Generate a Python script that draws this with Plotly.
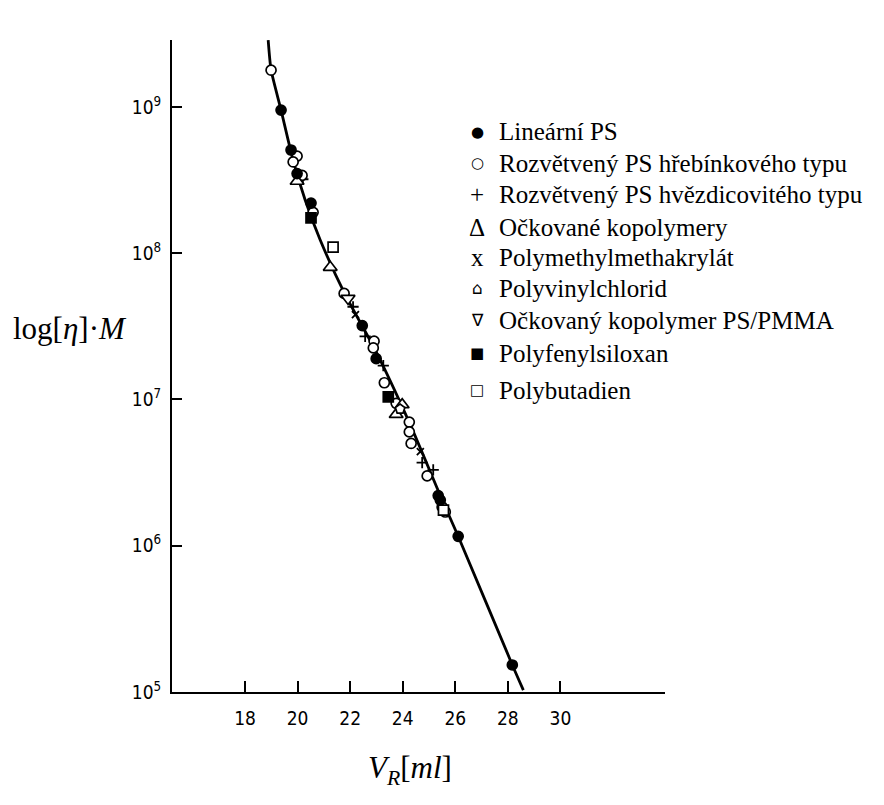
import plotly.graph_objects as go

# ---------------- data ----------------
curve_v = [18.88, 18.99, 19.37, 19.83, 20.29, 20.86, 21.81, 22.95, 24.29, 25.43, 26.11, 28.17, 28.59]
curve_y = [2.86e9, 1.79e9, 9.5e8, 4.3e8, 2.3e8, 1.23e8, 5.2e7, 2.18e7, 6.7e6, 2.2e6, 1.16e6, 1.53e5, 1.03e5]

lin_ps_v = [19.37, 19.75, 19.98, 20.51, 22.46, 22.99, 25.35, 25.43, 26.11, 28.17]
lin_ps_y = [9.5e8, 5.07e8, 3.5e8, 2.2e8, 3.2e7, 1.9e7, 2.2e6, 2.05e6, 1.16e6, 1.53e5]

comb_v = [18.99, 19.98, 19.83, 20.17, 20.59, 21.77, 22.91, 22.88, 23.30, 23.75, 24.25, 24.25, 24.32, 24.93, 25.50, 25.62]
comb_y = [1.78e9, 4.6e8, 4.2e8, 3.4e8, 1.9e8, 5.3e7, 2.5e7, 2.25e7, 1.3e7, 9.4e6, 7.0e6, 6.0e6, 5.0e6, 3.0e6, 1.84e6, 1.7e6]

star_v = [20.20, 22.11, 22.57, 23.26, 24.74, 25.16]
star_y = [3.2e8, 4.3e7, 2.7e7, 1.7e7, 3.7e6, 3.3e6]

graft_v = [19.98, 21.24, 23.98, 23.75]
graft_y = [3.1e8, 8.0e7, 9.2e6, 7.9e6]

pmma_v = [22.20, 24.67]
pmma_y = [3.8e7, 4.4e6]

pvc_v = [23.90]
pvc_y = [8.6e6]

graft_pmma_v = [21.92]
graft_pmma_y = [4.9e7]

pps_v = [20.51, 23.45]
pps_y = [1.74e8, 1.04e7]

pb_v = [21.35, 25.55]
pb_y = [1.1e8, 1.75e6]

x_ticks = [18, 20, 22, 24, 26, 28, 30]
y_ticks = [1e5, 1e6, 1e7, 1e8, 1e9]
y_tick_text = ["10<sup>5</sup>", "10<sup>6</sup>", "10<sup>7</sup>", "10<sup>8</sup>", "10<sup>9</sup>"]

legend_symbols = ["●", "○", "+", "Δ", "x", "⌂\ufe0e", "∇", "■", "□"]
legend_labels = [
    "Lineární PS",
    "Rozvětvený PS hřebínkového typu",
    "Rozvětvený PS hvězdicovitého typu",
    "Očkované kopolymery",
    "Polymethylmethakrylát",
    "Polyvinylchlorid",
    "Očkovaný kopolymer PS/PMMA",
    "Polyfenylsiloxan",
    "Polybutadien",
]

# ---------------- figure ----------------
W, H = 884, 805
L, R, T, B = 172, 665, 40, 692  # plot area in pixels
SERIF = "Liberation Serif, 'Times New Roman', Times, serif"

fig = go.Figure()

fig.add_trace(go.Scatter(x=curve_v, y=curve_y, mode="lines",
                         line=dict(color="black", width=2.8, shape="spline", smoothing=0.6),
                         hoverinfo="skip", showlegend=False))

def pts(xv, yv, symbol, size=9, width=1.7, color="black"):
    fig.add_trace(go.Scatter(x=xv, y=yv, mode="markers", showlegend=False,
                             marker=dict(symbol=symbol, size=size, color=color,
                                         line=dict(color="black", width=width))))

pts(star_v, star_y, "cross-thin", size=8, width=1.8)
pts(pmma_v, pmma_y, "x-thin", size=7, width=1.8)
pts(comb_v, comb_y, "circle", size=10, color="white")
pts(graft_v, graft_y, "triangle-up", size=12, color="white")
pts(graft_pmma_v, graft_pmma_y, "triangle-down", size=12, color="white")
pts(pvc_v, pvc_y, "pentagon", size=10, color="white")
pts(pb_v, pb_y, "square", size=10, color="white")
pts(lin_ps_v, lin_ps_y, "circle", size=10, color="black")
pts(pps_v, pps_y, "square", size=10, color="black")

tick_font = dict(family="DejaVu Sans Condensed, DejaVu Sans, sans-serif", size=19, color="black")

fig.update_xaxes(range=[15.22, 33.98], tickmode="array", tickvals=x_ticks,
                 ticks="inside", ticklen=11, tickwidth=1.6, tickcolor="black",
                 showline=True, linecolor="black", linewidth=2, mirror=False,
                 showgrid=False, zeroline=False, tickfont=tick_font, ticklabelstandoff=8)
fig.update_yaxes(type="log", range=[5, 9.457], tickmode="array", tickvals=y_ticks,
                 ticktext=y_tick_text, ticks="inside", ticklen=10, tickwidth=1.6,
                 tickcolor="black", showline=True, linecolor="black", linewidth=2,
                 showgrid=False, zeroline=False, tickfont=tick_font, ticklabelstandoff=5)

def px_to_paper(px, py):
    return (px - L) / (R - L), (B - py) / (B - T)

# per-symbol font (text glyphs of the legend)
sym_fonts = [("DejaVu Sans", 15), ("DejaVu Sans", 15), (SERIF, 25), (SERIF, 25), (SERIF, 25),
             ("DejaVu Sans", 17), ("DejaVu Sans", 17), ("DejaVu Sans", 15), ("DejaVu Sans", 15)]

annots = []
rows_y = [132, 163, 195, 227, 257, 288, 320, 353, 390]
for sym, lab, ry, (sf, ss) in zip(legend_symbols, legend_labels, rows_y, sym_fonts):
    sx, sy = px_to_paper(477, ry)
    tx, _ = px_to_paper(497, ry)
    annots.append(dict(x=sx, y=sy, xref="paper", yref="paper", text=sym, showarrow=False,
                       xanchor="center", yanchor="middle",
                       font=dict(family=sf, size=ss, color="black")))
    annots.append(dict(x=tx, y=sy, xref="paper", yref="paper", text=lab, showarrow=False,
                       xanchor="left", yanchor="middle",
                       font=dict(family=SERIF, size=25, color="black")))

# axis titles
ax, ay = px_to_paper(70, 328)
annots.append(dict(x=ax, y=ay, xref="paper", yref="paper",
                   text="log[<i>η</i>]·<i>M</i>", showarrow=False,
                   xanchor="center", yanchor="middle",
                   font=dict(family=SERIF, size=31, color="black")))
bx, by = px_to_paper(410, 770)
annots.append(dict(x=bx, y=by, xref="paper", yref="paper",
                   text="<i>V</i><sub><i>R</i></sub>[<i>ml</i>]", showarrow=False,
                   xanchor="center", yanchor="middle",
                   font=dict(family=SERIF, size=31, color="black")))

fig.update_layout(width=W, height=H, margin=dict(l=L, r=W - R, t=T, b=H - B),
                  paper_bgcolor="white", plot_bgcolor="white",
                  annotations=annots, showlegend=False)

fig.write_html("out.html")
